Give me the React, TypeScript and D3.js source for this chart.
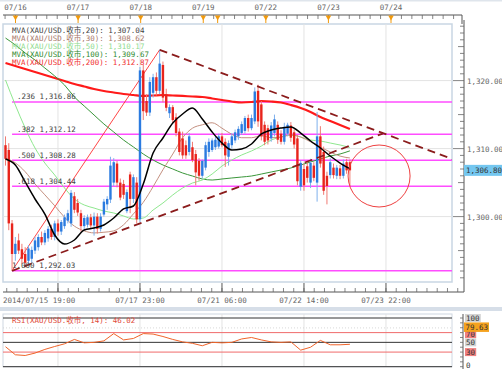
import React from 'react';
import * as d3 from 'd3';

// ---------- DATA ----------
const opens = [1310.5,1309.8,1299.0,1294.5,1296.5,1295.2,1294.5,1293.5,1293.8,1295.0,1295.5,1297.0,1296.2,1296.8,1298.2,1297.0,1299.0,1297.8,1298.6,1299.4,1299.0,1303.0,1302.0,1300.5,1298.6,1298.8,1299.9,1298.7,1300.0,1298.2,1300.3,1301.8,1302.5,1305.0,1307.8,1305.0,1304.8,1300.8,1306.2,1302.6,1305.0,1299.6,1321.5,1317.0,1315.3,1318.2,1320.5,1318.5,1322.3,1318.0,1315.2,1316.1,1314.6,1312.5,1311.5,1310.5,1309.5,1310.2,1309.2,1308.2,1306.0,1307.2,1309.5,1309.8,1310.2,1310.3,1311.8,1311.0,1308.8,1310.5,1311.2,1311.8,1312.3,1312.6,1314.5,1313.0,1314.0,1318.5,1316.5,1313.5,1313.0,1311.5,1312.3,1313.5,1312.2,1311.0,1312.2,1313.4,1312.4,1311.5,1304.4,1307.0,1307.4,1305.0,1307.5,1305.0,1311.8,1309.5,1306.0,1306.1,1307.2,1306.0,1307.1,1306.0,1308.0,1308.0];
const highs = [1311.8,1310.8,1299.5,1297.0,1297.5,1296.0,1295.5,1295.8,1295.6,1297.0,1297.4,1297.8,1298.0,1298.6,1298.8,1299.4,1299.6,1299.5,1300.3,1301.0,1303.9,1303.6,1302.6,1301.0,1300.2,1300.3,1300.4,1300.6,1300.5,1300.5,1302.6,1303.0,1308.8,1308.6,1308.2,1305.6,1305.4,1304.0,1306.6,1306.2,1305.8,1322.0,1322.3,1318.0,1320.5,1321.0,1321.2,1324.53,1322.8,1318.8,1316.5,1316.4,1315.2,1313.0,1312.5,1311.2,1312.3,1311.0,1309.8,1308.6,1308.4,1311.0,1311.5,1311.5,1311.8,1312.2,1312.3,1311.5,1311.2,1312.3,1312.8,1313.3,1314.0,1314.8,1315.0,1315.0,1319.0,1319.4,1317.0,1314.0,1313.5,1313.9,1315.0,1314.0,1312.7,1313.8,1313.8,1313.9,1312.8,1312.0,1308.3,1307.8,1308.0,1308.5,1308.0,1315.4,1313.3,1310.3,1306.6,1308.6,1307.8,1307.6,1307.6,1308.4,1308.5,1308.4];
const lows = [1307.5,1298.0,1292.03,1293.5,1294.5,1293.0,1292.5,1292.8,1293.2,1294.5,1295.0,1295.8,1295.8,1296.3,1296.6,1296.5,1297.2,1297.3,1298.2,1299.0,1298.5,1300.5,1300.1,1297.8,1298.0,1298.4,1298.2,1297.2,1297.5,1297.8,1300.0,1301.0,1302.0,1304.5,1304.3,1302.4,1302.6,1300.5,1300.5,1302.0,1299.0,1299.2,1314.2,1314.8,1314.8,1317.5,1317.8,1318.0,1316.8,1315.5,1314.5,1313.8,1311.8,1309.0,1308.5,1308.5,1309.0,1308.0,1304.6,1305.3,1305.6,1306.8,1308.8,1309.5,1309.8,1310.0,1310.2,1307.3,1307.5,1310.0,1310.8,1311.3,1312.0,1312.2,1312.5,1312.7,1313.6,1313.2,1311.2,1310.5,1310.6,1311.0,1311.8,1310.7,1310.6,1310.6,1311.8,1311.0,1310.0,1304.6,1303.8,1303.8,1305.0,1304.2,1305.2,1302.2,1307.2,1303.2,1301.8,1305.6,1305.6,1305.5,1305.5,1305.6,1306.3,1304.5];
const closes = [1308.5,1299.0,1294.5,1296.0,1295.0,1293.8,1293.2,1295.3,1295.1,1296.5,1297.0,1296.2,1297.6,1298.2,1297.0,1299.0,1297.8,1299.2,1299.9,1300.5,1303.5,1301.0,1300.6,1298.6,1299.8,1299.9,1298.7,1300.0,1298.2,1300.0,1302.2,1302.6,1307.5,1308.0,1305.0,1302.8,1303.2,1303.6,1302.6,1305.8,1299.6,1321.5,1315.5,1315.3,1319.8,1320.5,1318.5,1322.5,1317.5,1316.0,1316.1,1314.2,1312.3,1309.5,1309.0,1309.0,1311.8,1308.3,1306.5,1306.0,1308.2,1310.5,1311.0,1311.2,1311.3,1311.8,1310.5,1309.0,1310.8,1311.8,1312.4,1312.9,1313.6,1314.5,1313.0,1314.5,1318.4,1314.0,1311.8,1311.0,1311.2,1313.4,1314.3,1311.3,1311.0,1313.2,1313.5,1311.6,1310.6,1305.2,1307.9,1304.6,1305.7,1307.9,1305.7,1311.8,1307.8,1303.8,1304.5,1308.0,1306.1,1307.2,1306.0,1307.8,1306.8,1306.8];

// moving averages, sampled every maStep bars starting at bar 0
const maStep = 3;
const ma20 = [1308.47,1307.59,1305.09,1302.59,1300.38,1297.29,1295.97,1296.56,1298.03,1298.32,1298.76,1299.79,1301.12,1301.56,1304.79,1309.35,1311.56,1313.76,1315.09,1315.97,1314.35,1312.44,1310.82,1309.79,1309.94,1310.68,1312.15,1312.74,1313.03,1313.18,1312.29,1311.12,1310.09,1308.91,1307.88,1307.04];
const ma30 = [1308.6,1307.9,1306.6,1304.8,1303.2,1301.6,1299.9,1298.6,1297.9,1297.6,1297.7,1297.9,1298.8,1300.4,1302.1,1304.4,1306.9,1309.2,1311.6,1313.0,1313.5,1313.8,1313.0,1312.1,1311.6,1311.6,1311.9,1311.6,1311.7,1312.0,1311.7,1311.0,1310.2,1309.5,1308.9,1308.62];
const ma50 = [1320.09,1316.41,1313.03,1310.09,1307.88,1306.12,1304.21,1302.59,1301.71,1301.26,1300.82,1300.53,1300.09,1299.65,1299.79,1300.97,1302.0,1303.18,1304.21,1304.94,1305.38,1306.26,1307.44,1308.32,1309.06,1309.65,1310.38,1311.26,1311.71,1312.0,1311.71,1311.26,1311.12,1310.82,1310.53,1310.17];
const ma100 = [1326.26,1325.24,1324.06,1323.03,1321.85,1320.68,1319.35,1317.59,1316.26,1314.94,1313.62,1312.44,1311.26,1310.24,1309.21,1308.32,1307.59,1307.0,1306.41,1305.97,1305.53,1305.38,1305.53,1305.68,1305.82,1305.97,1306.26,1306.56,1306.85,1307.15,1307.59,1308.03,1308.47,1308.91,1309.21,1309.67];
const ma200 = [1322.59,1322.15,1321.71,1321.26,1320.82,1320.38,1319.94,1319.5,1319.13,1318.76,1318.47,1318.25,1318.03,1317.88,1317.74,1317.81,1317.88,1317.81,1317.74,1317.66,1317.59,1317.37,1317.15,1316.93,1316.78,1316.85,1317.0,1316.93,1316.78,1316.41,1315.97,1315.38,1314.65,1314.06,1313.47,1312.87];
const maPeriods = [20, 30, 50, 100, 200];
const maLast = [1307.04, 1308.62, 1310.17, 1309.67, 1312.87];

// RSI(14), sampled every maStep bars
const rsi = [41,24.5,23,28,35.5,41.5,47,56,49,50,53,68,55,58,68,67,62,56,51,48,43,50,49,50,57,60,55,51,50,51,34,40,54,45,45,46.02];
const rsiLegendValue = 46.02;
const rsiMarker = 79.63;
const rsiLevels = [100, 70, 50, 30, 0];

// Fibonacci retracement (bar index, price)
const fibLowIdx = 2;
const fibLowPrice = 1292.03;
const fibHighIdx = 47;
const fibHighPrice = 1324.53;
const fibRatios = [0.236, 0.382, 0.5, 0.618, 1.0];

// triangle trend lines: [bar index, price]
const upperTrend = [[47, 1324.53], [137, 1308.32]];
const lowerTrend = [[2, 1292.03], [115, 1312.2]];
const circleCenter = [113.9, 1305.97];

const priceGrid = [1300, 1310, 1320];
const lastPrice = 1306.8;

const xLabels = ['2014/07/15 19:00', '07/17 23:00', '07/21 06:00', '07/22 14:00', '07/23 22:00'];
const xLabelIdx = [16, 41, 66, 91, 116];

const topDays = ['07/16', '07/17', '07/18', '07/19', '07/22', '07/23', '07/24'];
const topMarkerDays = [0, 1, 2, 3, 3.23, 4, 5, 6];

// ---------- CHART ----------
const FONT = "'DejaVu Sans Mono', 'Noto Sans CJK SC', monospace";
const PL = 3, PR = 452, PT = 24, PB = 282;
const AXX = 464;

export default function App() {
  const x = d3.scaleLinear().domain([0, 105]).range([5.5, 349.9]);
  const y = d3.scaleLinear().domain([1300, 1320]).range([216.6, 80.6]);
  const yR = d3.scaleLinear().domain([0, 100]).range([366.7, 318]);
  const xTop = d3.scaleLinear().domain([0, 6]).range([15.5, 391]);
  const fmt = d3.format(',.2f');

  const maLine = (arr: number[]) =>
    d3.line<number>().x((_, i) => x(i * maStep)).y(d => y(d)).curve(d3.curveMonotoneX)(arr) || '';
  const rsiLine = d3.line<number>().x((_, i) => x(i * maStep)).y(d => yR(d)).curve(d3.curveLinear)(rsi) || '';

  const maColors = ['#000000', '#c49080', '#8fe88f', '#3a963a', '#ff1a1a'];
  const maWidths = [1.5, 1, 1, 1, 2.2];
  const legendColors = ['#444444', '#a8786a', '#8fdc8f', '#2f8a2f', '#f03030'];
  const maData = [ma20, ma30, ma50, ma100, ma200];

  const priceMin = y.invert(PB), priceMax = y.invert(PT);
  const minorTicks = d3.range(Math.ceil(priceMin), Math.floor(priceMax) + 1);

  const gridStep = x(xLabelIdx[1]) - x(xLabelIdx[0]);
  const bottomMinor: number[] = [];
  for (let px = x(xLabelIdx[0]) - gridStep; px <= AXX; px += gridStep / 8) {
    if (px >= PL) bottomMinor.push(px);
  }
  const topTicks: number[] = [];
  const dayW = xTop(1) - xTop(0);
  for (let px = xTop(0) - dayW; px <= 460; px += dayW / 6) {
    if (px >= PL) topTicks.push(px);
  }

  const fibRange = fibHighPrice - fibLowPrice;

  const rsiMinor = d3.range(0, 101, 10);

  return (
    <svg width={502} height={369} style={{ position: 'absolute', left: 0, top: 0, background: '#fff' }} fontFamily={FONT}>
      <defs>
        <clipPath id="plot"><rect x={PL} y={PT} width={PR - PL} height={PB - PT} /></clipPath>
        <clipPath id="rsiclip"><rect x={PL} y={314} width={PR - PL} height={53} /></clipPath>
      </defs>
      <rect x={0} y={0} width={502} height={369} fill="#ffffff" />
      <rect x={0} y={0} width={502} height={1.5} fill="#dfe5ec" />

      {/* top date axis */}
      {topDays.map((d, i) => (
        <text key={d} x={xTop(i)} y={10} fontSize={7.5} fill="#666" textAnchor="middle">{d}</text>
      ))}
      <line x1={PL} x2={AXX - 2} y1={15} y2={15} stroke="#555" strokeWidth={1} />
      <line x1={AXX - 2} x2={AXX - 2} y1={15} y2={PT} stroke="#555" strokeWidth={1} />
      {topTicks.map((t, i) => (
        <line key={i} x1={t} x2={t} y1={15} y2={19} stroke="#666" strokeWidth={0.8} />
      ))}
      {topMarkerDays.map((d, i) => (
        <g key={i}>
          <path d={`M${xTop(d) - 2.8},15.5 L${xTop(d) + 2.8},15.5 L${xTop(d)},20.5 Z`} fill="#f29a0c" />
          <line x1={xTop(d)} x2={xTop(d)} y1={19} y2={23} stroke="#f29a0c" strokeWidth={1} />
        </g>
      ))}

      {/* plot frame & grid */}
      <rect x={PL} y={PT} width={PR - PL} height={PB - PT} fill="#fff" stroke="#c9d6e3" strokeWidth={1.5} />
      {priceGrid.map(p => (
        <line key={p} x1={PL} x2={PR} y1={y(p)} y2={y(p)} stroke="#e3e3e3" strokeWidth={1} />
      ))}
      {xLabelIdx.map(i => (
        <line key={i} x1={x(i)} x2={x(i)} y1={PT} y2={PB} stroke="#e3e3e3" strokeWidth={1} />
      ))}

      <g clipPath="url(#plot)">
        {/* fib levels */}
        {fibRatios.map(r => {
          const p = fibHighPrice - r * fibRange;
          return <line key={r} x1={x(fibLowIdx)} x2={PR} y1={y(p)} y2={y(p)} stroke="#ff4dff" strokeWidth={1.5} />;
        })}
        <line x1={x(fibLowIdx)} y1={y(fibLowPrice)} x2={x(fibHighIdx)} y2={y(fibHighPrice)} stroke="#ff3030" strokeWidth={0.9} />

        {/* MAs (behind candles partially) */}
        {[4, 3, 2, 1].map(k => (
          <path key={k} d={maLine(maData[k])} fill="none" stroke={maColors[k]} strokeWidth={maWidths[k]} />
        ))}

        {/* candles */}
        {closes.map((c, i) => {
          const o = opens[i];
          const up = c >= o;
          const col = up ? '#2b7be0' : '#e8241c';
          const yt = y(Math.max(o, c)), yb = y(Math.min(o, c));
          return (
            <g key={i}>
              <line x1={x(i)} x2={x(i)} y1={y(highs[i])} y2={y(lows[i])} stroke={up ? '#7fb0ec' : '#f07a72'} strokeWidth={1} />
              <rect x={x(i) - 1.2} y={yt} width={2.4} height={Math.max(1, yb - yt)} fill={col} />
            </g>
          );
        })}

        <path d={maLine(ma20)} fill="none" stroke={maColors[0]} strokeWidth={maWidths[0]} />

        {/* triangle */}
        {[upperTrend, lowerTrend].map((t, k) => (
          <line key={k} x1={x(t[0][0])} y1={y(t[0][1])} x2={x(t[1][0])} y2={y(t[1][1])}
            stroke="#8b1c1c" strokeWidth={1.8} strokeDasharray="8,5" />
        ))}
        <circle cx={x(circleCenter[0])} cy={y(circleCenter[1])} r={31} fill="none" stroke="#ee4040" strokeWidth={1} />
      </g>

      {/* fib labels */}
      {fibRatios.map(r => {
        const p = fibHighPrice - r * fibRange;
        const lab = (r === 1 ? '1.000' : d3.format('.3f')(r).replace(/^0/, '')) + ' ' + fmt(p);
        return <text key={r} x={x(fibLowIdx) + (r === 1 ? 0 : 5)} y={y(p) - 2.5} fontSize={7.5} fill="#444">{lab}</text>;
      })}

      {/* MA legend */}
      {maPeriods.map((p, k) => (
        <text key={p} x={12} y={32.5 + k * 8.1} fontSize={7.5} fill={legendColors[k]}>
          {`MVA(XAU/USD.收市,${p}): ${fmt(maLast[k])}`}
        </text>
      ))}

      {/* right price axis */}
      <line x1={AXX} x2={AXX} y1={PT - 4} y2={292} stroke="#555" strokeWidth={1} />
      {minorTicks.map(p => {
        const len = p % 10 === 0 ? 11 : p % 5 === 0 ? 6 : 4;
        return <line key={p} x1={AXX - len} x2={AXX} y1={y(p)} y2={y(p)} stroke="#666" strokeWidth={0.8} />;
      })}
      {priceGrid.map(p => (
        <text key={p} x={AXX + 3} y={y(p) + 3} fontSize={7.5} fill="#666">{fmt(p)}</text>
      ))}
      <rect x={AXX} y={y(lastPrice) - 5.5} width={502 - AXX} height={11} fill="#74c7f0" />
      <text x={AXX + 2} y={y(lastPrice) + 3} fontSize={7.5} fill="#333">{fmt(lastPrice)}</text>

      {/* bottom time axis */}
      <line x1={PL} x2={AXX} y1={292} y2={292} stroke="#555" strokeWidth={1} />
      {bottomMinor.map((t, i) => (
        <line key={i} x1={t} x2={t} y1={288} y2={292} stroke="#666" strokeWidth={0.8} />
      ))}
      {xLabelIdx.map(i => (
        <line key={i} x1={x(i)} x2={x(i)} y1={283} y2={292} stroke="#555" strokeWidth={1} />
      ))}
      {xLabels.map((l, k) => (
        <text key={l} x={k === 0 ? PL : x(xLabelIdx[k])} y={303} fontSize={7.5} fill="#666"
          textAnchor={k === 0 ? 'start' : 'middle'}>{l}</text>
      ))}

      {/* panel separator */}
      <rect x={0} y={307} width={502} height={4} fill="#d6dee8" />

      {/* RSI panel */}
      <rect x={PL} y={314} width={PR - PL} height={52.7} fill="#fff" stroke="#d0d8e2" strokeWidth={1} />
      {xLabelIdx.map(i => (
        <line key={i} x1={x(i)} x2={x(i)} y1={314} y2={366.7} stroke="#e3e3e3" strokeWidth={1} />
      ))}
      <line x1={PL} x2={PR} y1={yR(rsiMarker)} y2={yR(rsiMarker)} stroke="#cfcfcf" strokeWidth={0.8} strokeDasharray="1,2" />
      {rsiLevels.map(l => (
        <line key={l} x1={PL} x2={PR} y1={yR(l)} y2={yR(l)}
          stroke={l === 70 || l === 30 ? '#f06a6a' : '#333'} strokeWidth={1} />
      ))}
      <g clipPath="url(#rsiclip)">
        <path d={rsiLine} fill="none" stroke="#f0642a" strokeWidth={1} />
      </g>
      <text x={12} y={323} fontSize={7.5} fill="#e04a3a">{`RSI(XAU/USD.收市, 14): ${d3.format('.2f')(rsiLegendValue)}`}</text>

      <line x1={AXX - 1} x2={AXX - 1} y1={314} y2={369} stroke="#555" strokeWidth={1} />
      {rsiMinor.map(v => (
        <line key={v} x1={AXX - 4} x2={AXX - 1} y1={yR(v)} y2={yR(v)} stroke="#666" strokeWidth={0.8} />
      ))}
      {rsiLevels.map(l => {
        const bg = l === 70 || l === 30 ? '#f08080' : l === 0 ? 'none' : '#d4d4d4';
        const w = String(l).length * 4.6 + 2;
        const ly = l === 0 ? yR(l) - 1.5 : l === 70 ? yR(l) + 1.5 : yR(l);
        return (
          <g key={l}>
            <rect x={AXX + 1} y={ly - 4} width={w} height={8} fill={bg} />
            <text x={AXX + 2} y={ly + 2.8} fontSize={7.5} fill="#333">{l}</text>
          </g>
        );
      })}
      <rect x={AXX} y={yR(rsiMarker) - 5.5} width={25} height={9.5} fill="#f5a21e" />
      <text x={AXX + 1.5} y={yR(rsiMarker) + 2.2} fontSize={7.5} fill="#333">{d3.format('.2f')(rsiMarker)}</text>
    </svg>
  );
}
